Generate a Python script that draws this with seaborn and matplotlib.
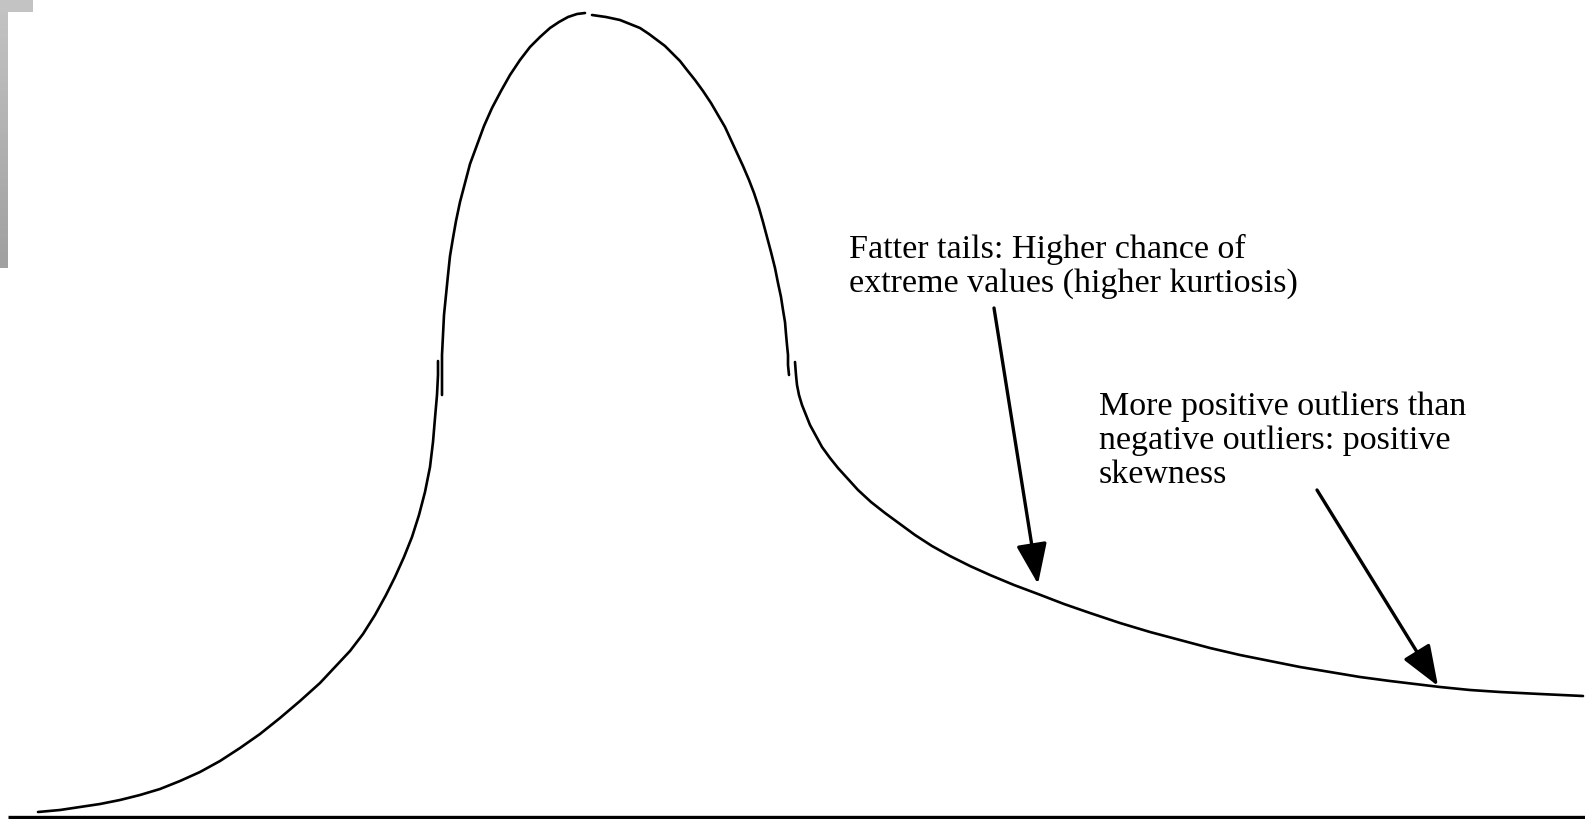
import numpy as np
import pandas as pd
import seaborn as sns
import matplotlib.pyplot as plt

seg1_x = [38, 60, 80, 100, 120, 140, 160, 180, 200, 220, 240, 260, 280, 300, 320, 335,
          350, 363, 375, 386, 395, 404, 412, 419, 425, 430, 433, 435, 437, 438, 438]
seg1_y = [812, 810, 807, 804, 800, 795, 789, 781, 772, 761, 748, 734, 718, 701, 683, 667,
          651, 634, 615, 595, 577, 557, 537, 515, 492, 467, 442, 418, 395, 375, 361]

seg2_x = [442, 442, 442, 443, 444, 446, 448, 450, 453, 456, 460, 465, 470, 477, 484,
          492, 501, 510, 520, 530, 540, 550, 559, 568, 577, 585]
seg2_y = [395, 375, 355, 335, 315, 295, 275, 256, 238, 221, 202, 183, 164, 145, 126,
          108, 91, 75, 60, 47, 37, 28, 22, 17, 14, 13]

seg3_x = [592, 606, 620, 630, 640, 649, 657, 665, 672, 680, 687, 695, 703, 711, 718,
          725, 731, 737, 743, 749, 754, 759, 763, 767, 771, 775, 778, 781, 783, 785,
          786, 787, 788, 788, 789]
seg3_y = [15, 17, 20, 24, 28, 34, 40, 46, 53, 61, 70, 80, 91, 103, 115,
          127, 140, 153, 166, 180, 193, 208, 222, 237, 252, 268, 283, 297, 310, 322,
          334, 345, 355, 365, 375]

seg4_x = [795, 796, 797, 799, 802, 806, 810, 816, 822, 830, 838, 848, 858, 871, 885,
          900, 915, 932, 950, 970, 990, 1014, 1038, 1064, 1090, 1120, 1150, 1180, 1210,
          1240, 1270, 1300, 1330, 1360, 1390, 1415, 1440, 1470, 1500, 1540, 1583]
seg4_y = [362, 375, 385, 395, 405, 415, 425, 436, 447, 458, 468, 479, 490, 502, 513,
          524, 535, 546, 556, 566, 575, 585, 594, 604, 613, 623, 632, 640, 648,
          655, 661, 667, 672, 677, 681, 684, 687, 690, 692, 694, 696]

text_fat = "Fatter tails: Higher chance of\nextreme values (higher kurtiosis)"
text_skew = "More positive outliers than\nnegative outliers: positive\nskewness"

arrow1_tail = (994, 308)
arrow1_tip = (1038, 584)
arrow2_tail = (1317, 490)
arrow2_tip = (1438, 686)

# ---- build table ----
frames = []
for i, (xs, ys) in enumerate([(seg1_x, seg1_y), (seg2_x, seg2_y),
                              (seg3_x, seg3_y), (seg4_x, seg4_y)]):
    frames.append(pd.DataFrame({"x": xs, "y": ys, "seg": i}))
df = pd.concat(frames, ignore_index=True)

sns.set_theme(style="white")
plt.rcParams['font.family'] = ['Liberation Serif', 'DejaVu Serif']

fig = plt.figure(figsize=(15.85, 8.19), dpi=100)
ax = fig.add_axes([0, 0, 1, 1])

# gray bracket with gradient
grad = np.linspace(0, 1, 256).reshape(-1, 1)
cmap = plt.matplotlib.colors.LinearSegmentedColormap.from_list("g", ["#c4c4c4", "#a0a0a0"])
ax.imshow(grad, extent=(0, 8, 268, 0), cmap=cmap, aspect='auto', zorder=1)
ax.imshow(np.full((2, 2), 0.03), extent=(0, 33, 12, 0), cmap=cmap, aspect='auto',
          zorder=1, vmin=0, vmax=1)

# baseline
ax.plot([8, 1585], [817, 817], color='black', lw=2.4, solid_capstyle='butt', zorder=2)

sns.lineplot(data=df, x="x", y="y", units="seg", estimator=None, sort=False,
             color='black', linewidth=1.9, ax=ax, legend=False)
ax.set_xlim(0, 1585)
ax.set_ylim(819, 0)
ax.axis('off')

ax.text(849, 234, text_fat, fontsize=24.5, va='top', ha='left', color='black',
        linespacing=1.15)
ax.text(1099, 391, text_skew, fontsize=24.5, va='top', ha='left', color='black',
        linespacing=1.15)

for tail, tip in [(arrow1_tail, arrow1_tip), (arrow2_tail, arrow2_tip)]:
    ax.annotate('', xy=tip, xytext=tail,
                arrowprops=dict(arrowstyle='-|>,head_length=1.0,head_width=0.38',
                                mutation_scale=25, lw=2.4, color='black',
                                shrinkA=0, shrinkB=0))

fig.savefig("out.png", dpi=100)
